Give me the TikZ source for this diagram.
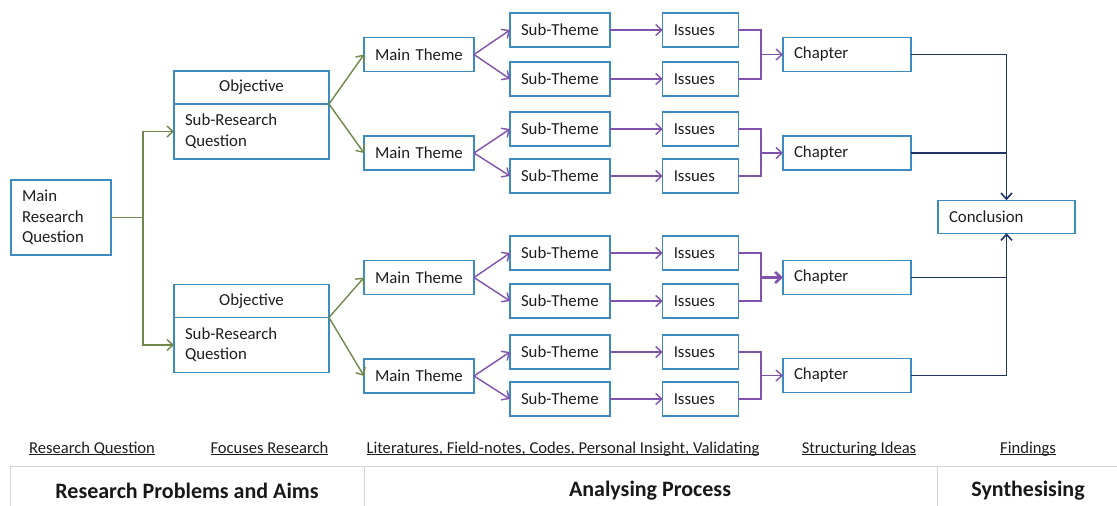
\documentclass[tikz,border=0pt]{standalone}
\usepackage{fontspec}
\setmainfont{Carlito}
\usetikzlibrary{arrows.meta}

\definecolor{boxblue}{RGB}{60,140,194}
\definecolor{linkolive}{RGB}{112,136,74}
\definecolor{linkpurple}{RGB}{128,82,172}
\definecolor{linknavy}{RGB}{30,52,98}
\definecolor{inkgray}{RGB}{30,30,30}
\definecolor{rulegray}{RGB}{212,212,212}

% underline at one fixed depth, whatever the descenders
\newcommand\steprule[1]{\underline{\smash{#1}}}

\begin{document}
\begin{tikzpicture}[x=1pt, y=-1pt,
  font=\fontsize{16.8}{20.5}\selectfont,
  box/.style={draw=boxblue, line width=1.3pt, fill=white, inner xsep=11pt,
    inner ysep=0pt, outer sep=0pt, align=left, text=inkgray, minimum height=34pt},
  mainbox/.style={box, text width=88pt},
  subbox/.style={box, text width=78pt},
  issuebox/.style={box, text width=53.5pt},
  chapbox/.style={box, text width=106pt},
  tip/.style={-{Straight Barb[length=6pt,width=11pt]}},
  olivelink/.style={draw=linkolive, line width=1.4pt},
  purplelink/.style={draw=linkpurple, line width=1.4pt},
  navylink/.style={draw=linknavy, line width=1.6pt},
  steplabel/.style={text=inkgray, font=\fontsize{16.6}{20}\selectfont, anchor=base},
  phaselabel/.style={text=inkgray!80!black, font=\fontsize{22}{26}\selectfont\bfseries}
]
\useasboundingbox (0,0) rectangle (1117,506);

% research question and objectives
\node[box, text width=78pt, minimum height=75pt] (mrq) at (61,217.5) {Main\\Research\\Question};

\node[box, text width=133pt, align=center, minimum height=33pt] (objT1) at (251.5,87.5) {Objective};
\node[box, text width=133pt, minimum height=55pt] (objB1) at (251.5,131.5) {Sub-Research\\Question};
\node[box, text width=133pt, align=center, minimum height=33pt] (objT2) at (251.5,301) {Objective};
\node[box, text width=133pt, minimum height=55pt] (objB2) at (251.5,345) {Sub-Research\\Question};

% main themes
\node[mainbox] (mt1) at (419,54.5) {Main Theme};
\node[mainbox] (mt2) at (419,153) {Main Theme};
\node[mainbox] (mt3) at (419,277.5) {Main Theme};
\node[mainbox] (mt4) at (419,376) {Main Theme};

% sub-themes and issues
\foreach \i/\y in {1/30,2/79,3/129,4/176,5/253,6/301,7/352,8/399}{
  \node[subbox] (st\i) at (560,\y) {Sub-Theme};
  \node[issuebox] (is\i) at (700.5,\y) {Issues};
}

% chapters and conclusion
\node[chapbox] (ch1) at (847,54.5) {Chapter};
\node[chapbox] (ch2) at (847,153) {Chapter};
\node[chapbox] (ch3) at (847,277.5) {Chapter};
\node[chapbox] (ch4) at (847,375.5) {Chapter};
\node[box, text width=115pt, minimum height=33pt] (con) at (1006.5,216.7) {Conclusion};

% question to objectives
\coordinate (trunk) at (143,217.5);
\draw[olivelink] (mrq.east) -- (trunk);
\draw[olivelink, tip] (trunk) |- (objB1.west);
\draw[olivelink, tip] (trunk) |- (objB2.west);

% objectives to main themes
\draw[olivelink, tip] (objT1.south east) -- (mt1.west);
\draw[olivelink, tip] (objT1.south east) -- (mt2.west);
\draw[olivelink, tip] (objT2.south east) -- (mt3.west);
\draw[olivelink, tip] (objT2.south east) -- (mt4.west);

% main themes to sub-themes
\draw[purplelink, tip] (mt1.east) -- (st1.west);
\draw[purplelink, tip] (mt1.east) -- (st2.west);
\draw[purplelink, tip] (mt2.east) -- (st3.west);
\draw[purplelink, tip] (mt2.east) -- (st4.west);
\draw[purplelink, tip] (mt3.east) -- (st5.west);
\draw[purplelink, tip] (mt3.east) -- (st6.west);
\draw[purplelink, tip] (mt4.east) -- (st7.west);
\draw[purplelink, tip] (mt4.east) -- (st8.west);

% sub-themes to issues
\foreach \i in {1,...,8}{
  \draw[purplelink, tip] (st\i.east) -- (is\i.west);
}

% issues joined into chapters
\coordinate (j1) at (761,54.5);
\coordinate (j2) at (761,153);
\coordinate (j3) at (761,277.5);
\coordinate (j4) at (761,375.5);
\draw[purplelink] (is1.east) -| (j1) |- (is2.east);
\draw[purplelink] (is3.east) -| (j2) |- (is4.east);
\draw[purplelink] (is5.east) -| (j3) |- (is6.east);
\draw[purplelink] (is7.east) -| (j4) |- (is8.east);
\draw[purplelink, tip] (j1) -- (ch1.west);
\draw[purplelink, tip] (j2) -- (ch2.west);
\draw[purplelink, tip, line width=2.6pt] (j3) -- (ch3.west);
\draw[purplelink, tip] (j4) -- (ch4.west);

% chapters to conclusion
\draw[navylink, tip] (ch1.east) -| (con.north);
\draw[navylink] (ch2.east) -- (ch2.east -| con.north);
\draw[navylink, tip] (ch4.east) -| (con.south);
\draw[navylink] (ch3.east) -- (ch3.east -| con.south);

% step labels, set on a common baseline
\node[steplabel] (lb1) at (92,453) {\steprule{Research Question}};
\node[steplabel] (lb2) at (269.5,453) {\steprule{Focuses Research}};
\node[steplabel] (lb3) at (563,453) {\steprule{Literatures, Field-notes, Codes, Personal Insight, Validating}};
\node[steplabel] (lb4) at (859,453) {\steprule{Structuring Ideas}};
\node[steplabel] (lb5) at (1028,453) {\steprule{Findings}};

% phase table
\draw[rulegray, line width=1pt] (10.7,466) -- (1117,466);
\draw[rulegray, line width=1pt] (10.7,466) -- (10.7,506);
\draw[rulegray, line width=1pt] (364,466) -- (364,506);
\draw[rulegray, line width=1pt] (937,466) -- (937,506);
\node[phaselabel] (ph1) at (187,491) {Research Problems and Aims};
\node[phaselabel] (ph2) at (650,491) {Analysing Process};
\node[phaselabel] (ph3) at (1028,491) {Synthesising};
\end{tikzpicture}
\end{document}
